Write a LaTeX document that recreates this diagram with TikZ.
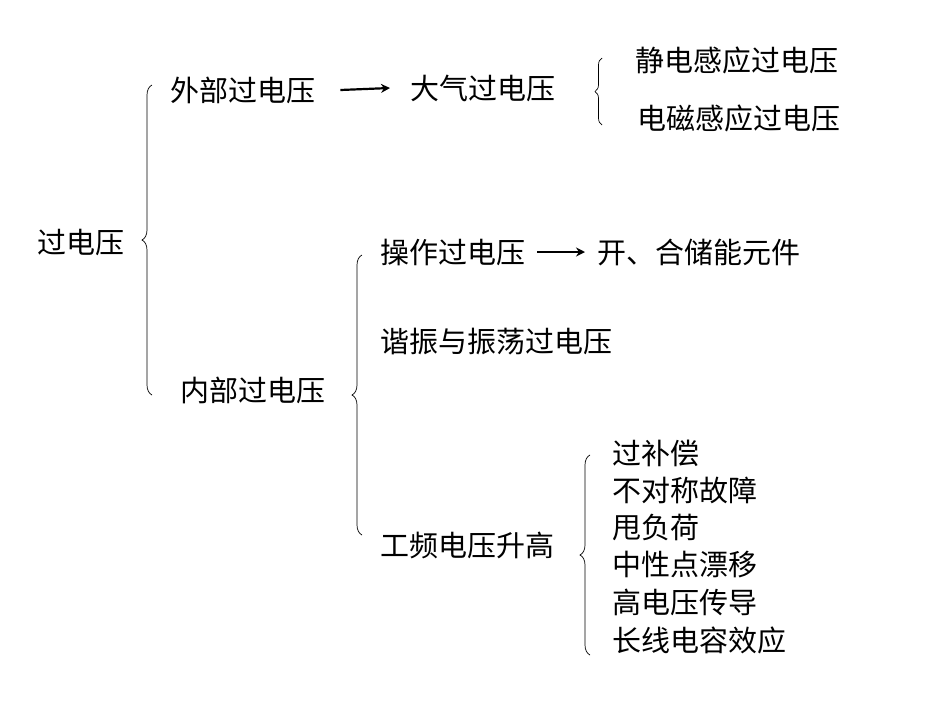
\documentclass[tikz,border=0pt]{standalone}
\usepackage{fontspec}
\setmainfont{Noto Sans CJK SC}
\usetikzlibrary{decorations.pathreplacing,arrows.meta}
\begin{document}
\begin{tikzpicture}[x=1pt,y=-1pt,
  lbl/.style={anchor=west,inner sep=0pt,font=\fontsize{29}{31}\selectfont},
  brc/.style={decorate,decoration={brace,amplitude=10pt},line width=0.7pt},
  arr/.style={-{Stealth[length=9pt,width=9pt]},line width=2.2pt}]
\useasboundingbox[fill=white] (0,0) rectangle (950,713);
\node[lbl] (root) at (37,243) {过电压};
\node[lbl] (ext) at (170,90) {外部过电压};
\node[lbl] (atm) at (410,88) {大气过电压};
\node[lbl] (es) at (635,60) {静电感应过电压};
\node[lbl] (em) at (637,118) {电磁感应过电压};
\node[lbl] (int) at (180,390) {内部过电压};
\node[lbl] (op) at (380,252) {操作过电压};
\node[lbl] (sw) at (597,252) {开、合储能元件};
\node[lbl] (res) at (380,342) {谐振与振荡过电压};
\node[lbl] (pf) at (380,545) {工频电压升高};
\node[lbl] (l1) at (612,453) {过补偿};
\node[lbl] (l2) at (612,490) {不对称故障};
\node[lbl] (l3) at (612,527) {甩负荷};
\node[lbl] (l4) at (612,565) {中性点漂移};
\node[lbl] (l5) at (612,602) {高电压传导};
\node[lbl] (l6) at (612,640) {长线电容效应};
\draw[arr] ([xshift=25pt]ext.east) -- ([xshift=-20pt]atm.west);
\draw[arr] ([xshift=12pt]op.east) -- ([xshift=-12pt]sw.west);
\coordinate (b1a) at (152,395); \coordinate (b1b) at (152,85);
\coordinate (b2a) at (602,125); \coordinate (b2b) at (602,58);
\coordinate (b3a) at (362,535); \coordinate (b3b) at (362,255);
\coordinate (b4a) at (590,655); \coordinate (b4b) at (590,455);
\draw[brc] (b1a) -- (b1b);
\draw[brc,decoration={amplitude=7pt}] (b2a) -- (b2b);
\draw[brc] (b3a) -- (b3b);
\draw[brc] (b4a) -- (b4b);
\end{tikzpicture}
\end{document}
